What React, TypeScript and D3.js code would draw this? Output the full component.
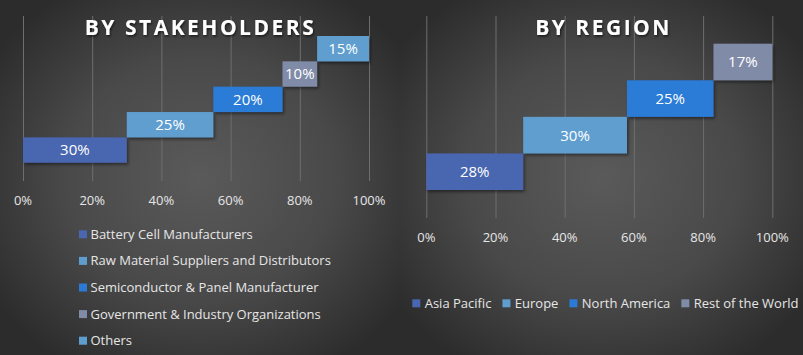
import React, { useEffect, useRef } from "react";
import * as d3 from "d3";

const stakeholderCategories = [
  "Battery Cell Manufacturers",
  "Raw Material Suppliers and Distributors",
  "Semiconductor & Panel Manufacturer",
  "Government & Industry Organizations",
  "Others",
];
const stakeholderValues = [30, 25, 20, 10, 15];
const stakeholderColors = ["#4a66b1", "#5e9ecf", "#2b7bd6", "#808ba8", "#5e9ecf"];

const regionCategories = ["Asia Pacific", "Europe", "North America", "Rest of the World"];
const regionValues = [28, 30, 25, 17];
const regionColors = ["#4a66b1", "#5e9ecf", "#2b7bd6", "#808ba8"];

const tickValues = [0, 20, 40, 60, 80, 100];

const W = 803;
const H = 355;
const FONT = "'Open Sans', 'DejaVu Sans', sans-serif";

export default function App() {
  const ref = useRef<SVGSVGElement | null>(null);

  useEffect(() => {
    const svg = d3.select(ref.current);
    svg.selectAll("*").remove();

    const defs = svg.append("defs");
    const grad = defs
      .append("radialGradient")
      .attr("id", "bg")
      .attr("cx", "50%")
      .attr("cy", "50%")
      .attr("r", "62%");
    grad.append("stop").attr("offset", "0%").attr("stop-color", "#5a5a5a");
    grad.append("stop").attr("offset", "55%").attr("stop-color", "#494949");
    grad.append("stop").attr("offset", "100%").attr("stop-color", "#2c2c2c");

    const sh = defs.append("filter").attr("id", "shadow").attr("x", "-10%").attr("y", "-10%").attr("width", "130%").attr("height", "150%");
    sh.append("feDropShadow").attr("dx", 1.5).attr("dy", 2).attr("stdDeviation", 1.5).attr("flood-color", "#000").attr("flood-opacity", 0.45);

    const tsh = defs.append("filter").attr("id", "tshadow").attr("x", "-10%").attr("y", "-30%").attr("width", "120%").attr("height", "160%");
    tsh.append("feDropShadow").attr("dx", 1).attr("dy", 1.5).attr("stdDeviation", 1).attr("flood-color", "#000").attr("flood-opacity", 0.6);

    svg.append("rect").attr("x", 0).attr("y", 0).attr("width", 400).attr("height", H).attr("fill", "url(#bg)");
    svg.append("rect").attr("x", 400).attr("y", 0).attr("width", W - 400).attr("height", H).attr("fill", "url(#bg)");

    type Panel = {
      title: string;
      titleX: number;
      cats: string[];
      vals: number[];
      colors: string[];
      x0: number;
      x1: number;
      gridTop: number;
      gridBottom: number;
      barTop: number;
      barBottom: number;
      tickY: number;
    };

    const drawPanel = (p: Panel) => {
      const g = svg.append("g");
      const x = d3.scaleLinear().domain([0, 100]).range([p.x0, p.x1]);
      const y = d3
        .scaleBand<string>()
        .domain([...p.cats].reverse())
        .range([p.barTop, p.barBottom])
        .padding(0);

      g.selectAll("line.grid")
        .data(tickValues)
        .enter()
        .append("line")
        .attr("x1", (d) => x(d) + 0.5)
        .attr("x2", (d) => x(d) + 0.5)
        .attr("y1", p.gridTop)
        .attr("y2", p.gridBottom)
        .attr("stroke", "#6e6e6e")
        .attr("stroke-width", 1);

      g.selectAll("text.tick")
        .data(tickValues)
        .enter()
        .append("text")
        .attr("x", (d) => x(d))
        .attr("y", p.tickY)
        .attr("text-anchor", "middle")
        .attr("dy", "0.35em")
        .attr("fill", "#e6e6e6")
        .attr("font-family", FONT)
        .attr("font-size", 13)
        .text((d) => `${d}%`);

      g.append("text")
        .attr("x", p.titleX)
        .attr("y", 35)
        .attr("text-anchor", "middle")
        .attr("fill", "#ffffff")
        .attr("font-family", FONT)
        .attr("font-weight", 700)
        .attr("font-size", 21)
        .attr("letter-spacing", 2.5)
        .attr("filter", "url(#tshadow)")
        .text(p.title);

      const starts = d3.cumsum(p.vals).map((c, i) => c - p.vals[i]);

      g.selectAll("rect.bar")
        .data(p.cats)
        .enter()
        .append("rect")
        .attr("x", (_, i) => x(starts[i]))
        .attr("y", (d) => y(d)!)
        .attr("width", (_, i) => x(starts[i] + p.vals[i]) - x(starts[i]))
        .attr("height", y.bandwidth())
        .attr("fill", (_, i) => p.colors[i])
        .attr("filter", "url(#shadow)");

      g.selectAll("text.lbl")
        .data(p.cats)
        .enter()
        .append("text")
        .attr("x", (_, i) => x(starts[i] + p.vals[i] / 2))
        .attr("y", (d) => y(d)! + y.bandwidth() / 2)
        .attr("dy", "0.36em")
        .attr("text-anchor", "middle")
        .attr("fill", "#ffffff")
        .attr("font-family", FONT)
        .attr("font-size", 15)
        .text((_, i) => `${p.vals[i]}%`);
    };

    drawPanel({
      title: "BY STAKEHOLDERS",
      titleX: 200.5,
      cats: stakeholderCategories,
      vals: stakeholderValues,
      colors: stakeholderColors,
      x0: 23,
      x1: 369,
      gridTop: 16,
      gridBottom: 181,
      barTop: 36,
      barBottom: 162.7,
      tickY: 200,
    });

    drawPanel({
      title: "BY REGION",
      titleX: 603.5,
      cats: regionCategories,
      vals: regionValues,
      colors: regionColors,
      x0: 426.3,
      x1: 772.3,
      gridTop: 16,
      gridBottom: 218,
      barTop: 43.7,
      barBottom: 190,
      tickY: 237,
    });

    const ll = svg.append("g");
    stakeholderCategories.forEach((c, i) => {
      const cy = 234.3 + i * 26.6;
      ll.append("rect").attr("x", 79).attr("y", cy - 4).attr("width", 8).attr("height", 8).attr("fill", stakeholderColors[i]);
      ll.append("text")
        .attr("x", 90.5)
        .attr("y", cy)
        .attr("dy", "0.35em")
        .attr("fill", "#e6e6e6")
        .attr("font-family", FONT)
        .attr("font-size", 13)
        .text(c);
    });

    const rl = svg.append("g");
    let cx = 412.3;
    const ly = 303.3;
    regionCategories.forEach((c, i) => {
      rl.append("rect").attr("x", cx).attr("y", ly - 4).attr("width", 8).attr("height", 8).attr("fill", regionColors[i]);
      const t = rl
        .append("text")
        .attr("x", cx + 12.4)
        .attr("y", ly)
        .attr("dy", "0.35em")
        .attr("fill", "#e6e6e6")
        .attr("font-family", FONT)
        .attr("font-size", 13)
        .text(c);
      const w = (t.node() as SVGTextElement).getComputedTextLength();
      cx = cx + 12.4 + w + 11;
    });
  }, []);

  return (
    <svg
      ref={ref}
      width={W}
      height={H}
      style={{ position: "absolute", left: 0, top: 0, display: "block" }}
    />
  );
}
